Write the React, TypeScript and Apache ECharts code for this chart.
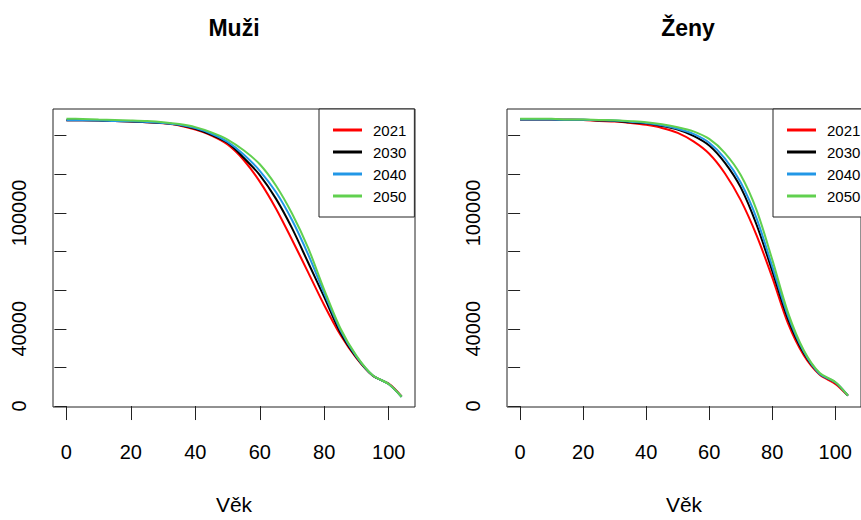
import React, { useEffect, useRef } from "react";
import * as echarts from "echarts";

// Ages (Věk)
const ages = [0, 5, 10, 15, 20, 25, 30, 35, 40, 45, 50, 55, 60, 65, 70, 75, 80, 85, 90, 95, 100, 104];

// Muži – survivors
const muzi2021 = [148000, 148000, 147900, 147600, 147300, 147000, 146400, 145300, 143100, 140000, 135400, 127400, 116200, 102300, 86100, 69200, 52200, 36900, 24800, 15800, 11600, 5000];
const muzi2030 = [148000, 148000, 147900, 147600, 147300, 147000, 146500, 145500, 143500, 140400, 136300, 128600, 119600, 107400, 92100, 74300, 56400, 38100, 25200, 15800, 11400, 4800];
const muzi2040 = [148000, 148000, 147900, 147600, 147400, 147100, 146600, 145700, 143900, 141000, 136800, 130300, 121800, 110800, 96300, 78500, 58500, 39400, 25600, 15900, 11400, 4800];
const muzi2050 = [148800, 148600, 148300, 148100, 147900, 147600, 147000, 146000, 144400, 141700, 138000, 132400, 125200, 114200, 99700, 81900, 60200, 40300, 26000, 16000, 11400, 4800];

// Ženy – survivors
const zeny2021 = [148300, 148300, 148300, 148200, 148100, 147600, 147300, 146600, 145600, 144000, 141400, 137000, 130600, 120400, 106600, 88500, 66600, 42800, 26300, 16300, 11500, 5400];
const zeny2030 = [148300, 148300, 148300, 148200, 148200, 147900, 147600, 146900, 146400, 145000, 143100, 139900, 134900, 125900, 113200, 94000, 70000, 45000, 27400, 16700, 12200, 5400];
const zeny2040 = [148300, 148300, 148300, 148200, 148200, 148000, 147800, 147200, 146600, 145400, 143600, 140900, 136300, 128100, 115700, 97300, 72300, 46700, 28200, 16700, 12300, 5400];
const zeny2050 = [148800, 148800, 148800, 148300, 148300, 148100, 148000, 147500, 146900, 145900, 144400, 142200, 138300, 131000, 119600, 101600, 75800, 48400, 28900, 17200, 12400, 5400];

const years = ["2021", "2030", "2040", "2050"];
const colors = ["#FF0000", "#000000", "#2297E6", "#61D04F"];
const xTicks = [0, 20, 40, 60, 80, 100];
const yTicks = [0, 20000, 40000, 60000, 80000, 100000, 120000, 140000];
const yLabels = [0, 40000, 100000];
const titles = ["Muži", "Ženy"];
const xName = "Věk";

const FONT = "'Liberation Sans', Arial, sans-serif";

export default function App() {
  const ref = useRef<HTMLDivElement>(null);
  useEffect(() => {
    if (!ref.current) return;
    const chart = echarts.init(ref.current, null, { renderer: "svg" });
    const panels = [
      [muzi2021, muzi2030, muzi2040, muzi2050],
      [zeny2021, zeny2030, zeny2040, zeny2050],
    ];
    const gridLefts = [53, 507];
    const grids = gridLefts.map((l) => ({
      left: l,
      top: 109,
      width: 362,
      height: 303,
      show: true,
      borderColor: "#222",
      borderWidth: 1,
      backgroundColor: "transparent",
    }));
    const xAxes = gridLefts.map((_, i) => ({
      type: "value",
      gridIndex: i,
      min: -4.16,
      max: 108.16,
      name: xName,
      nameLocation: "middle",
      nameGap: 87,
      nameTextStyle: { fontSize: 21, fontFamily: FONT, color: "#000" },
      axisLine: { show: false },
      axisTick: { show: true, inside: false, length: 14, customValues: xTicks, lineStyle: { color: "#222", width: 1 } },
      axisLabel: { show: true, customValues: xTicks, margin: 35, fontSize: 20, fontFamily: FONT, color: "#000" },
      splitLine: { show: false },
    }));
    const yAxes = gridLefts.map((_, i) => ({
      type: "value",
      gridIndex: i,
      min: -500,
      max: 153800,
      axisLine: { show: false },
      axisTick: { show: true, inside: false, length: 12, customValues: yTicks, lineStyle: { color: "#222", width: 1 } },
      axisLabel: {
        show: true,
        customValues: yLabels,
        rotate: 90,
        margin: 24,
        fontSize: 20,
        fontFamily: FONT,
        color: "#000",
        formatter: (v: number) => String(v),
      },
      splitLine: { show: false },
    }));
    const series: any[] = [];
    panels.forEach((p, pi) => {
      p.forEach((vals, si) => {
        series.push({
          type: "line",
          name: years[si],
          xAxisIndex: pi,
          yAxisIndex: pi,
          data: ages.map((a, k) => [a, vals[k]]),
          showSymbol: false,
          symbol: "none",
          smooth: 0.3,
          lineStyle: { color: colors[si], width: 2 },
          itemStyle: { color: colors[si] },
          z: 2 + si,
        });
      });
    });
    const legends = [319, 773].map((l) => ({
      left: l,
      top: 109,
      orient: "vertical",
      data: years,
      icon: "rect",
      itemWidth: 29,
      itemHeight: 3,
      itemGap: 4,
      padding: [12, 8, 12, 14],
      borderColor: "#222",
      borderWidth: 1,
      backgroundColor: "#fff",
      selectedMode: false,
      textStyle: { fontSize: 15, lineHeight: 18, fontFamily: FONT, color: "#000", padding: [0, 0, 0, 6] },
    }));
    chart.setOption({
      animation: false,
      grid: grids,
      xAxis: xAxes,
      yAxis: yAxes,
      series,
      legend: legends,
      graphic: titles.map((t, i) => ({
        type: "text",
        x: gridLefts[i] + 181,
        y: 28,
        style: {
          text: t,
          fontSize: 23,
          fontWeight: "bold",
          fontFamily: FONT,
          fill: "#000",
          align: "center",
          verticalAlign: "middle",
        },
      })),
    });
    return () => chart.dispose();
  }, []);
  return (
    <div
      ref={ref}
      style={{ position: "absolute", left: 0, top: 0, width: 861, height: 520, background: "#fff" }}
    />
  );
}
